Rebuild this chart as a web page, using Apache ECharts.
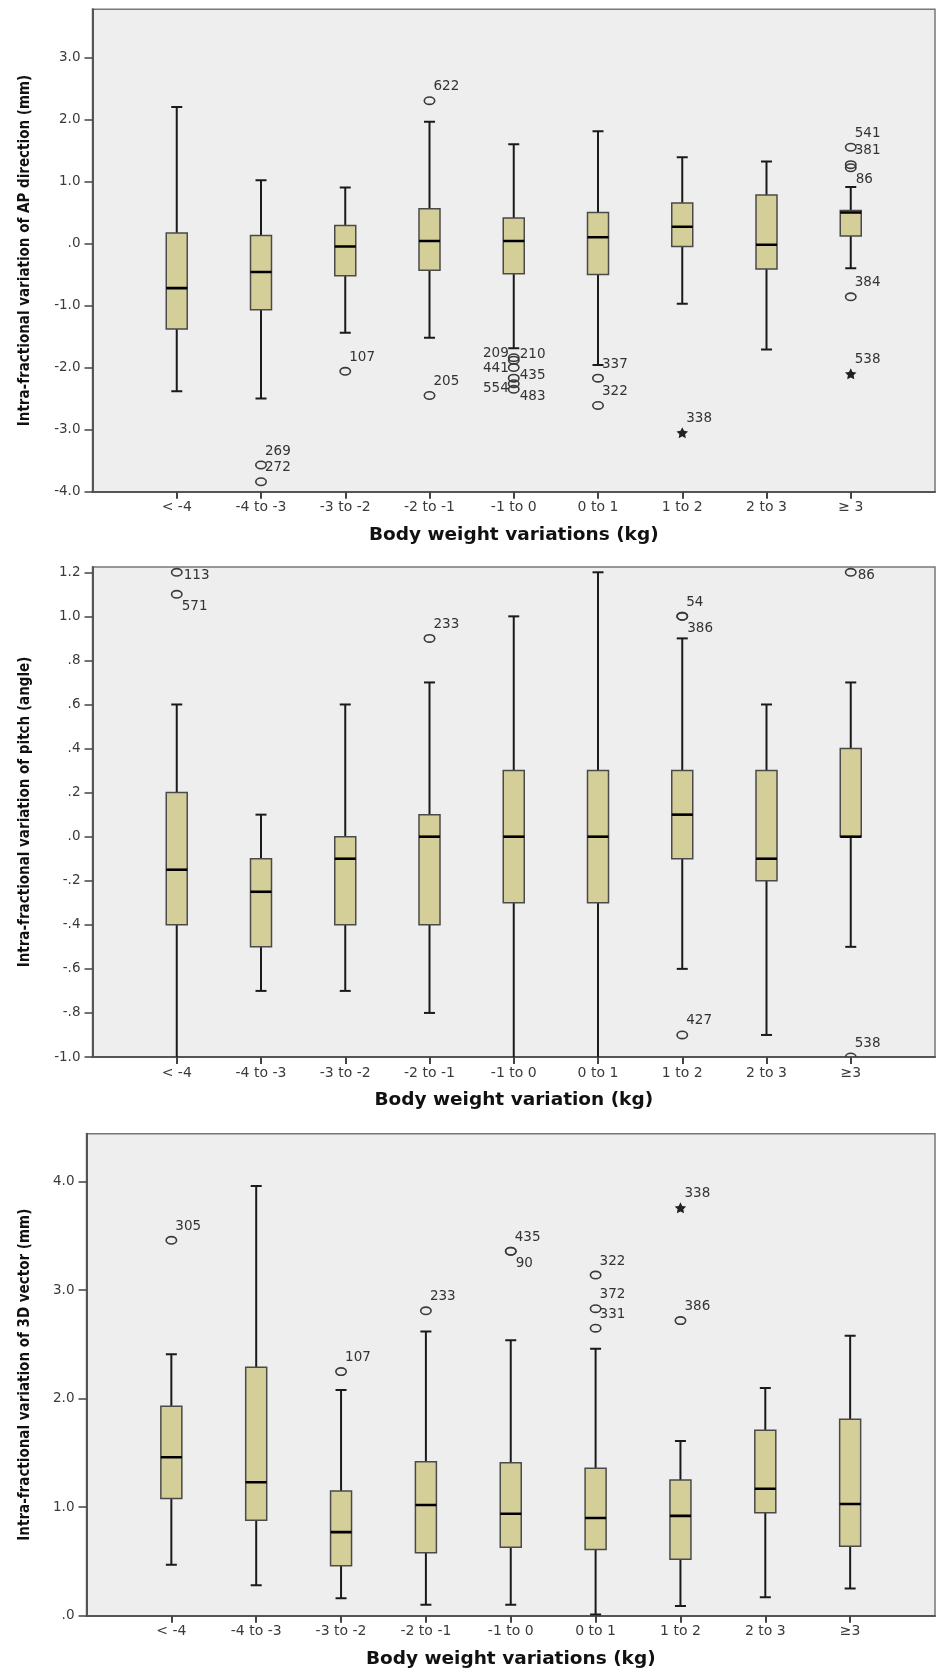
<!DOCTYPE html>
<html>
<head>
<meta charset="utf-8">
<script src="https://cdn.jsdelivr.net/npm/echarts@6/dist/echarts.min.js"></script>
<style>
html,body{margin:0;padding:0;background:#ffffff;}
#chart{width:936px;height:1670px;}
</style>
</head>
<body>
<div id="chart"></div>
<script>
// ---------- categories ----------
const categoriesAP = ['< -4', '-4 to -3', '-3 to -2', '-2 to -1', '-1 to 0', '0 to 1', '1 to 2', '2 to 3', '≥ 3'];
const categoriesPitch = ['< -4', '-4 to -3', '-3 to -2', '-2 to -1', '-1 to 0', '0 to 1', '1 to 2', '2 to 3', '≥3'];
const categories3D = ['< -4', '-4 to -3', '-3 to -2', '-2 to -1', '-1 to 0', '0 to 1', '1 to 2', '2 to 3', '≥3'];

// ---------- AP direction (mm) ----------
const apLow    = [-2.38, -2.50, -1.44, -1.52, -1.69, -1.96, -0.97, -1.71, -0.40];
const apQ1     = [-1.38, -1.07, -0.52, -0.43, -0.49, -0.50, -0.05, -0.41,  0.12];
const apMedian = [-0.72, -0.46, -0.05,  0.04,  0.04,  0.10,  0.27, -0.02,  0.50];
const apQ3     = [ 0.17,  0.13,  0.29,  0.56,  0.41,  0.50,  0.65,  0.78,  0.53];
const apHigh   = [ 2.20,  1.02,  0.90,  1.96,  1.60,  1.81,  1.39,  1.32,  0.91];
// [category, value, case id, marker]
const apOutliers = [
  ['-4 to -3', -3.57, '269', 'o'], ['-4 to -3', -3.84, '272', 'o'],
  ['-3 to -2', -2.06, '107', 'o'],
  ['-2 to -1',  2.30, '622', 'o'], ['-2 to -1', -2.45, '205', 'o'],
  ['-1 to 0', -1.84, '209', 'o'], ['-1 to 0', -1.88, '210', 'o'],
  ['-1 to 0', -2.00, '441', 'o'], ['-1 to 0', -2.17, '435', 'o'],
  ['-1 to 0', -2.26, '554', 'o'], ['-1 to 0', -2.35, '483', 'o'],
  ['0 to 1', -2.17, '337', 'o'], ['0 to 1', -2.61, '322', 'o'],
  ['1 to 2', -3.05, '338', '*'],
  ['≥ 3', 1.55, '541', 'o'], ['≥ 3', 1.27, '381', 'o'], ['≥ 3', 1.22, '86', 'o'],
  ['≥ 3', -0.86, '384', 'o'], ['≥ 3', -2.10, '538', '*']
];
const apTicks = [-4, -3, -2, -1, 0, 1, 2, 3];

// ---------- pitch (angle) ----------
const pitchLow    = [-1.05, -0.70, -0.70, -0.80, -1.05, -1.05, -0.60, -0.90, -0.50];
const pitchQ1     = [-0.40, -0.50, -0.40, -0.40, -0.30, -0.30, -0.10, -0.20,  0.00];
const pitchMedian = [-0.15, -0.25, -0.10,  0.00,  0.00,  0.00,  0.10, -0.10,  0.00];
const pitchQ3     = [ 0.20, -0.10,  0.00,  0.10,  0.30,  0.30,  0.30,  0.30,  0.40];
const pitchHigh   = [ 0.60,  0.10,  0.60,  0.70,  1.00,  1.20,  0.90,  0.60,  0.70];
const pitchOutliers = [
  ['< -4', 1.20, '113', 'o'], ['< -4', 1.10, '571', 'o'],
  ['-2 to -1', 0.90, '233', 'o'],
  ['1 to 2', 1.00, '54', 'o'], ['1 to 2', 1.00, '386', 'o'], ['1 to 2', -0.90, '427', 'o'],
  ['≥3', 1.20, '86', 'o'], ['≥3', -1.00, '538', 'o']
];
const pitchTicks = [-1.0, -0.8, -0.6, -0.4, -0.2, 0, 0.2, 0.4, 0.6, 0.8, 1.0, 1.2];

// ---------- 3D vector (mm) ----------
const v3dLow    = [0.47, 0.28, 0.16, 0.10, 0.10, 0.01, 0.09, 0.17, 0.25];
const v3dQ1     = [1.08, 0.88, 0.46, 0.58, 0.63, 0.61, 0.52, 0.95, 0.64];
const v3dMedian = [1.46, 1.23, 0.77, 1.02, 0.94, 0.90, 0.92, 1.17, 1.03];
const v3dQ3     = [1.93, 2.29, 1.15, 1.42, 1.41, 1.36, 1.25, 1.71, 1.81];
const v3dHigh   = [2.41, 3.96, 2.08, 2.62, 2.54, 2.46, 1.61, 2.10, 2.58];
const v3dOutliers = [
  ['< -4', 3.46, '305', 'o'],
  ['-3 to -2', 2.25, '107', 'o'],
  ['-2 to -1', 2.81, '233', 'o'],
  ['-1 to 0', 3.36, '435', 'o'], ['-1 to 0', 3.36, '90', 'o'],
  ['0 to 1', 3.14, '322', 'o'], ['0 to 1', 2.83, '372', 'o'], ['0 to 1', 2.65, '331', 'o'],
  ['1 to 2', 3.76, '338', '*'], ['1 to 2', 2.72, '386', 'o']
];
const v3dTicks = [0, 1, 2, 3, 4];

// ---------- label placement (style only) ----------
const labelPlaceAP = {'209': 'lu', '210': 'ru', '441': 'l', '435': 'ru2', '554': 'ld', '483': 'rd', '86': 'dr'};
const labelPlacePitch = {'113': 'r', '571': 'dr', '386': 'dr', '86': 'r'};
const labelPlace3D = {'90': 'dr'};

// ---------- styling ----------
const PLOT_BG = '#eeeeee';
const BOX_FILL = '#d4cf98';
const TICK_FONT = '"DejaVu Sans", sans-serif';
const TITLE_Y_FONT = '"Liberation Sans Narrow", "DejaVu Sans Condensed", sans-serif';
const TITLE_X_FONT = '"DejaVu Sans", sans-serif';
const STAR_PATH = 'M0,-10L2.94,-4.05L9.51,-3.09L4.76,1.55L5.88,8.09L0,5L-5.88,8.09L-4.76,1.55L-9.51,-3.09L-2.94,-4.05Z';

const placeOffsets = {
  ur:  {offset: [4, -14], align: 'left'},
  r:   {offset: [7, 3], align: 'left'},
  dr:  {offset: [5, 12], align: 'left'},
  l:   {offset: [-5, 1], align: 'right'},
  lu:  {offset: [-5, -4], align: 'right'},
  ld:  {offset: [-5, 5], align: 'right'},
  ru:  {offset: [6, -6], align: 'left'},
  ru2: {offset: [6, -3], align: 'left'},
  rd:  {offset: [6, 7], align: 'left'},
  ul:  {offset: [-4, -14], align: 'right'}
};

function boxData(low, q1, med, q3, high) {
  return low.map((v, i) => [i + 1, low[i], q1[i], med[i], q3[i], high[i]]);
}
function outlierPoints(list, cats) {
  return list.map(o => [cats.indexOf(o[0]) + 1, o[1]]);
}
function makeOutlierRenderer(list, places) {
  return function (params, api) {
    const o = list[params.dataIndex];
    const pt = api.coord([api.value(0), api.value(1)]);
    const p = placeOffsets[places[o[2]] || 'ur'];
    const marker = o[3] === '*'
      ? {type: 'path', shape: {pathData: STAR_PATH, x: pt[0] - 6, y: pt[1] - 5.5, width: 12, height: 11},
         style: {fill: '#222'}}
      : {type: 'ellipse', shape: {cx: pt[0], cy: pt[1], rx: 5.2, ry: 3.7},
         style: {fill: 'none', stroke: '#3a3a3a', lineWidth: 1.6}};
    const label = {type: 'text', x: pt[0] + p.offset[0], y: pt[1] + p.offset[1],
      style: {text: o[2], fill: '#333', font: '13.5px "DejaVu Sans", sans-serif',
              textAlign: p.align, textVerticalAlign: 'middle'}};
    return {type: 'group', children: [marker, label]};
  };
}
function renderBox(params, api) {
  const x = api.value(0);
  const pLow = api.coord([x, api.value(1)]);
  const pQ1 = api.coord([x, api.value(2)]);
  const pMed = api.coord([x, api.value(3)]);
  const pQ3 = api.coord([x, api.value(4)]);
  const pHigh = api.coord([x, api.value(5)]);
  const cx = pMed[0], bw = 21, cw = 11;
  const lineStyle = {stroke: '#1a1a1a', lineWidth: 2};
  return {
    type: 'group',
    children: [
      {type: 'line', shape: {x1: cx, y1: pHigh[1], x2: cx, y2: pQ3[1]}, style: lineStyle},
      {type: 'line', shape: {x1: cx, y1: pQ1[1], x2: cx, y2: pLow[1]}, style: lineStyle},
      {type: 'line', shape: {x1: cx - cw / 2, y1: pHigh[1], x2: cx + cw / 2, y2: pHigh[1]}, style: lineStyle},
      {type: 'line', shape: {x1: cx - cw / 2, y1: pLow[1], x2: cx + cw / 2, y2: pLow[1]}, style: lineStyle},
      {type: 'rect', shape: {x: cx - bw / 2, y: pQ3[1], width: bw, height: pQ1[1] - pQ3[1]},
       style: {fill: BOX_FILL, stroke: '#4a4a4a', lineWidth: 1.5}},
      {type: 'line', shape: {x1: cx - bw / 2, y1: pMed[1], x2: cx + bw / 2, y2: pMed[1]},
       style: {stroke: '#000', lineWidth: 2.6}}
    ]
  };
}

function fmtAP(v) { return v === 0 ? '.0' : v.toFixed(1); }
function fmtPitch(v) {
  let s = (Math.round(v * 10) / 10).toFixed(1);
  if (Math.abs(v) < 1) s = s.replace('0.', '.');
  return s;
}

const grids = [
  {left: 92.5, top: 9.3, width: 842.5, height: 482.4},
  {left: 92.5, top: 567, width: 842.5, height: 490},
  {left: 86.5, top: 1133.7, width: 848.5, height: 482}
];
const panels = [
  {cats: categoriesAP, ticks: apTicks, min: -4, max: 3.773, fmt: fmtAP,
   yName: 'Intra-fractional variation of AP direction (mm)', xName: 'Body weight variations (kg)',
   box: boxData(apLow, apQ1, apMedian, apQ3, apHigh), outList: apOutliers, places: labelPlaceAP},
  {cats: categoriesPitch, ticks: pitchTicks, min: -1.0, max: 1.224, fmt: fmtPitch,
   yName: 'Intra-fractional variation of pitch (angle)', xName: 'Body weight variation (kg)',
   box: boxData(pitchLow, pitchQ1, pitchMedian, pitchQ3, pitchHigh), outList: pitchOutliers, places: labelPlacePitch},
  {cats: categories3D, ticks: v3dTicks, min: 0, max: 4.443, fmt: fmtAP,
   yName: 'Intra-fractional variation of 3D vector (mm)', xName: 'Body weight variations (kg)',
   box: boxData(v3dLow, v3dQ1, v3dMedian, v3dQ3, v3dHigh), outList: v3dOutliers, places: labelPlace3D}
];

const option = {
  animation: false,
  backgroundColor: '#ffffff',
  grid: grids.map(g => Object.assign({show: true, backgroundColor: PLOT_BG, borderColor: '#777777', borderWidth: 1.5}, g)),
  xAxis: panels.map((p, i) => ({
    type: 'value', gridIndex: i, min: 0, max: 10,
    name: p.xName, nameLocation: 'middle', nameGap: 34,
    nameTextStyle: {fontFamily: TITLE_X_FONT, fontWeight: 'bold', fontSize: 18.5, color: '#111'},
    axisLine: {show: true, onZero: false, lineStyle: {color: '#555', width: 2}},
    axisTick: {show: true, length: 7, lineStyle: {color: '#444', width: 2}, customValues: [1, 2, 3, 4, 5, 6, 7, 8, 9]},
    axisLabel: {show: true, margin: 9, fontFamily: TICK_FONT, fontSize: 14, color: '#3a3a3a',
                customValues: [1, 2, 3, 4, 5, 6, 7, 8, 9],
                formatter: v => p.cats[Math.round(v) - 1] || ''},
    splitLine: {show: false}
  })),
  yAxis: panels.map((p, i) => ({
    type: 'value', gridIndex: i, min: p.min, max: p.max,
    name: p.yName, nameLocation: 'middle', nameGap: i === 2 ? 54 : 60, nameRotate: 90,
    nameTextStyle: {fontFamily: TITLE_Y_FONT, fontWeight: 'bold', fontSize: 15, color: '#111'},
    axisLine: {show: true, onZero: false, lineStyle: {color: '#555', width: 2}},
    axisTick: {show: true, length: 8, lineStyle: {color: '#444', width: 1.5}, customValues: p.ticks},
    axisLabel: {show: true, margin: 12, fontFamily: TICK_FONT, fontSize: 13.5, color: '#3a3a3a',
                customValues: p.ticks, formatter: p.fmt},
    splitLine: {show: false}
  })),
  series: []
};
panels.forEach((p, i) => {
  option.series.push({
    type: 'custom', xAxisIndex: i, yAxisIndex: i, renderItem: renderBox,
    encode: {x: 0, y: [1, 2, 3, 4, 5]}, data: p.box, clip: true, z: 2
  });
  option.series.push({
    type: 'custom', xAxisIndex: i, yAxisIndex: i, renderItem: makeOutlierRenderer(p.outList, p.places),
    encode: {x: 0, y: 1}, data: outlierPoints(p.outList, p.cats), clip: true, z: 3
  });
});

const chart = echarts.init(document.getElementById('chart'), null, {renderer: 'canvas'});
chart.setOption(option);
</script>
</body>
</html>
